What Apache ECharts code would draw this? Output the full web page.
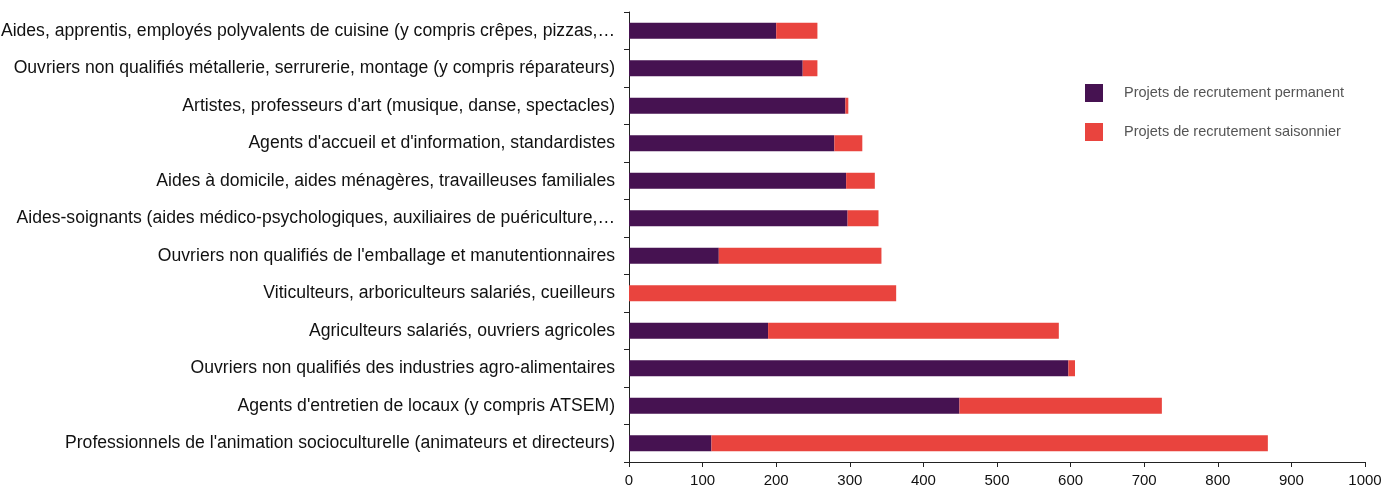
<!DOCTYPE html>
<html>
<head>
<meta charset="utf-8">
<script src="https://cdn.jsdelivr.net/npm/echarts@6/dist/echarts.min.js"></script>
<style>
  html, body { margin: 0; padding: 0; background: #fff; }
  #chart { width: 1384px; height: 488px; }
</style>
</head>
<body>
<div id="chart"></div>
<script>
// categories listed bottom to top (category axis starts at the bottom)
const metiers = [
  "Professionnels de l'animation socioculturelle (animateurs et directeurs)",
  "Agents d'entretien de locaux (y compris ATSEM)",
  "Ouvriers non qualifiés des industries agro-alimentaires",
  "Agriculteurs salariés, ouvriers agricoles",
  "Viticulteurs, arboriculteurs salariés, cueilleurs",
  "Ouvriers non qualifiés de l'emballage et manutentionnaires",
  "Aides-soignants (aides médico-psychologiques, auxiliaires de puériculture,…",
  "Aides à domicile, aides ménagères, travailleuses familiales",
  "Agents d'accueil et d'information, standardistes",
  "Artistes, professeurs d'art (musique, danse, spectacles)",
  "Ouvriers non qualifiés métallerie, serrurerie, montage (y compris réparateurs)",
  "Aides, apprentis, employés polyvalents de cuisine (y compris crêpes, pizzas,…"
];
const permanent = [112, 449, 597, 189, 0, 122, 297, 295, 279, 294, 236, 200];
const saisonnier = [756, 275, 9, 395, 363, 221, 42, 39, 38, 4, 20, 56];

const chart = echarts.init(document.getElementById("chart"));

chart.setOption({
  animation: false,
  textStyle: { fontFamily: "Liberation Sans, Arial, sans-serif" },
  grid: {
    left: 629, right: 19, top: 12, bottom: 26,
    containLabel: false, outerBoundsMode: "none"
  },
  legend: {
    orient: "vertical",
    left: 1085,
    top: 84,
    padding: 0,
    itemWidth: 18,
    itemHeight: 18,
    itemGap: 21,
    icon: "rect",
    textStyle: { fontSize: 14.5, color: "#555", padding: [0, 0, 0, 16] },
    data: ["Projets de recrutement permanent", "Projets de recrutement saisonnier"]
  },
  xAxis: {
    type: "value",
    min: 0,
    max: 1000,
    interval: 100,
    splitLine: { show: false },
    axisLine: { show: true, lineStyle: { color: "#222" } },
    axisTick: { show: true, length: 5, lineStyle: { color: "#222" } },
    axisLabel: { fontSize: 15, color: "#111", margin: 11, formatter: (v) => String(v) }
  },
  yAxis: {
    type: "category",
    data: metiers,
    axisLine: { lineStyle: { color: "#222" } },
    axisTick: { show: true, length: 5, lineStyle: { color: "#222" } },
    axisLabel: { fontSize: 17.6, color: "#111", margin: 14 }
  },
  series: [
    {
      name: "Projets de recrutement permanent",
      type: "bar",
      stack: "total",
      barWidth: 16,
      itemStyle: { color: "#461251" },
      data: permanent
    },
    {
      name: "Projets de recrutement saisonnier",
      type: "bar",
      stack: "total",
      barWidth: 16,
      itemStyle: { color: "#e9443e" },
      data: saisonnier
    }
  ]
});
</script>
</body>
</html>
